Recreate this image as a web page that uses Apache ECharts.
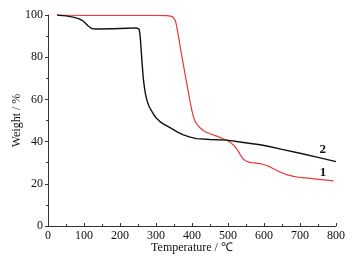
<!DOCTYPE html>
<html><head><meta charset="utf-8">
<script src="https://cdn.jsdelivr.net/npm/echarts@6/dist/echarts.min.js"></script>
<style>html,body{margin:0;padding:0;background:#fff}#c{width:356px;height:261px}</style>
</head><body><div id="c"></div>
<script>
// Curve 1 (red)
var temp1 = [25,100,200,300,330,340,346,350,353,356,360,365,370,376,385,394,399,404,408,412,417,424,431,440,450,469,485,500,508,516,524,530,536,542,550,558,565,589,605,617,630,645,660,682,700,728,760,793];
var weight1 = [100,99.8,99.8,99.8,99.7,99.5,99.2,98.6,97.6,95.8,92.2,87.3,82,76.5,68,59.6,55.2,51.8,49.8,48.6,47.6,46.3,45.3,44.4,43.7,42.6,41.5,40.3,39.4,38.3,36.6,35,33.2,31.8,30.8,30.3,30,29.6,28.8,28,26.8,25.6,24.5,23.5,23,22.6,22,21.4];
// Curve 2 (black)
var temp2 = [25,50,70,85,97,105,110,115,121,130,140,180,220,245,250,253,255,257,259,261,263,265,268,271,275,280,286,293,300,310,320,339,360,376,395,413,450,497,543,589,608,650,700,750,800];
var weight2 = [100,99.6,99,98.3,97.2,96,95,94.1,93.6,93.4,93.4,93.5,93.7,93.9,93.8,93.3,91.5,88,83,78,73.5,69.5,65.5,62.3,59.5,57,55,53,51.3,49.6,48.4,46.6,44.5,43.2,42.1,41.4,41,40.7,39.6,38.5,37.9,36.3,34.5,32.5,30.5];
var xTicks = [0,100,200,300,400,500,600,700,800];
var yTicks = [0,20,40,60,80,100];
var curveLabels = [{name:'1', coord:[764,25.4]}, {name:'2', coord:[763,36]}];

function pairs(a,b){return a.map(function(v,i){return [v,b[i]];});}
var font = 'Liberation Serif';
var chart = echarts.init(document.getElementById('c'));
chart.setOption({
  backgroundColor:'#ffffff',
  animation:false,
  grid:{left:48,right:20,top:15,bottom:35,containLabel:false,outerBoundsMode:'none'},
  xAxis:{type:'value',min:xTicks[0],max:xTicks[xTicks.length-1],interval:100,
    name:'Temperature / \u2103',nameLocation:'middle',nameGap:16,nameMoveOverlap:false,
    nameTextStyle:{fontFamily:font,fontSize:12,color:'#111'},
    axisLine:{show:true,lineStyle:{color:'#333',width:1}},
    axisTick:{show:true,inside:true,length:3,lineStyle:{color:'#333'}},
    minorTick:{show:true,splitNumber:2,length:2,lineStyle:{color:'#333'}},
    axisLabel:{fontFamily:font,fontSize:12,color:'#111',margin:4},
    splitLine:{show:false}},
  yAxis:{type:'value',min:yTicks[0],max:yTicks[yTicks.length-1],interval:20,
    name:'Weight / %',nameLocation:'middle',nameGap:25,nameMoveOverlap:false,
    nameTextStyle:{fontFamily:font,fontSize:12,color:'#111'},
    axisLine:{show:true,lineStyle:{color:'#333',width:1}},
    axisTick:{show:true,inside:false,length:3,lineStyle:{color:'#333'}},
    minorTick:{show:true,splitNumber:2,length:2,lineStyle:{color:'#333'}},
    axisLabel:{fontFamily:font,fontSize:12,color:'#111',margin:5},
    splitLine:{show:false}},
  series:[
    {type:'line',data:pairs(temp2,weight2),showSymbol:false,smooth:false,
     lineStyle:{color:'#111',width:1.4,join:'round'},z:3,
     markPoint:{symbol:'circle',symbolSize:0,data:[{coord:curveLabels[1].coord,value:curveLabels[1].name}],
       label:{show:true,formatter:curveLabels[1].name,fontFamily:font,fontWeight:'bold',fontSize:13,color:'#111'}}},
    {type:'line',data:pairs(temp1,weight1),showSymbol:false,smooth:false,
     lineStyle:{color:'#e8383a',width:1.2,join:'round'},z:2,
     markPoint:{symbol:'circle',symbolSize:0,data:[{coord:curveLabels[0].coord,value:curveLabels[0].name}],
       label:{show:true,formatter:curveLabels[0].name,fontFamily:font,fontWeight:'bold',fontSize:13,color:'#111'}}}
  ]
});
</script></body></html>
